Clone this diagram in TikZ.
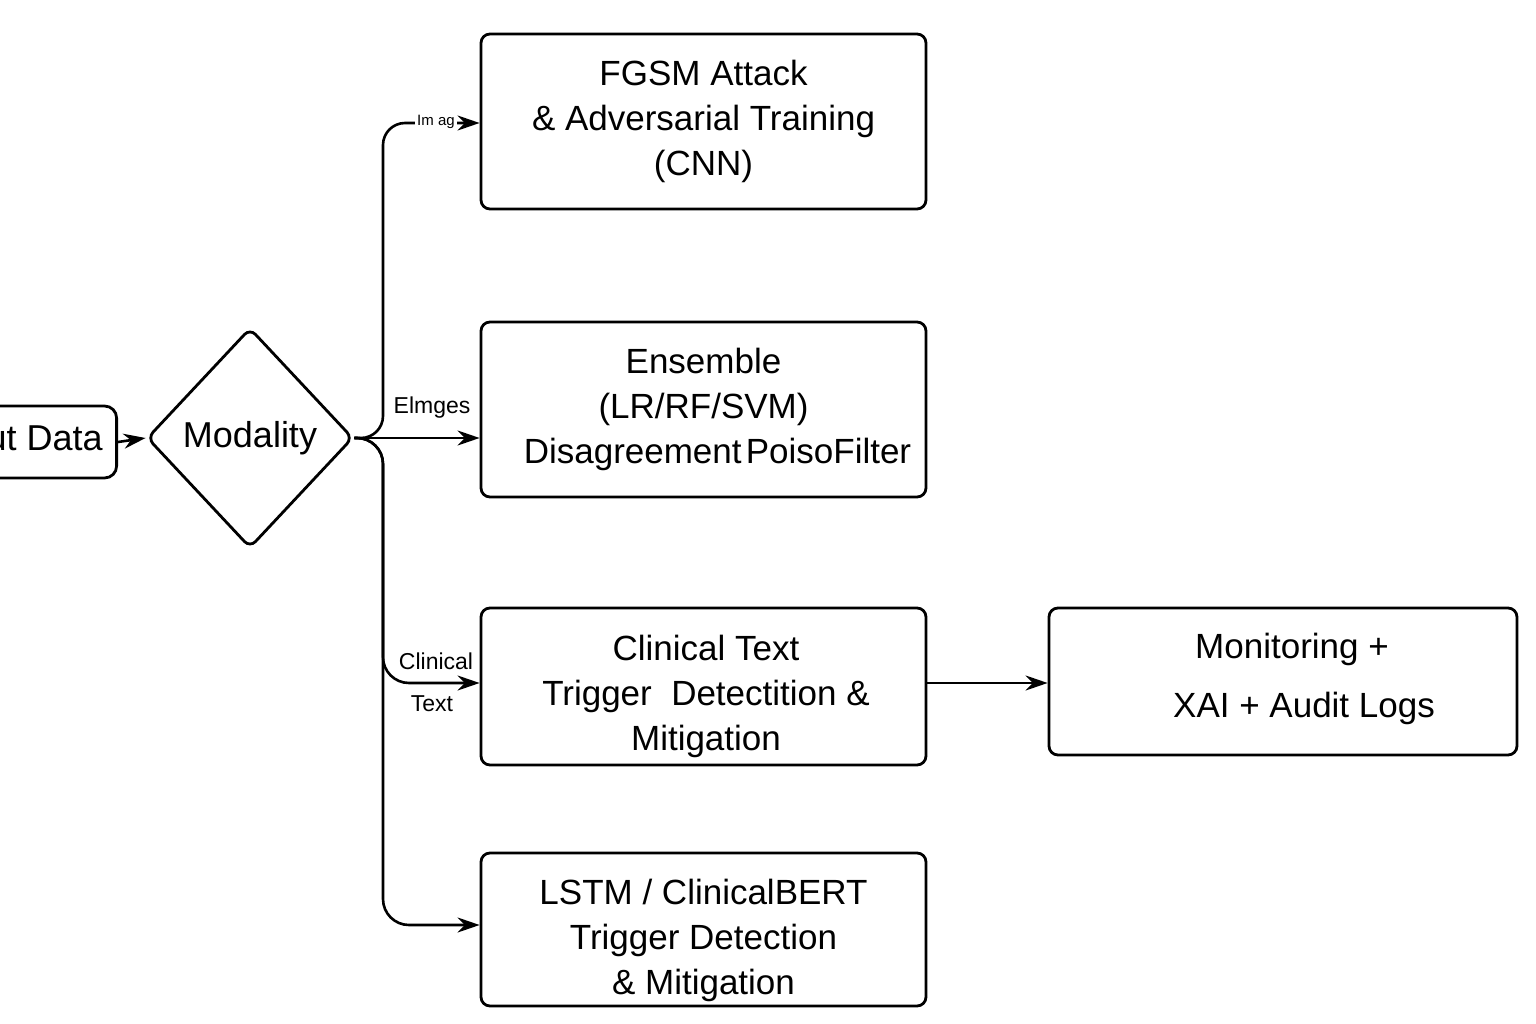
\documentclass[tikz,border=0pt]{standalone}
\usepackage{fontspec}
\setmainfont{Liberation Sans}
\usetikzlibrary{shapes.geometric,arrows.meta}
\tikzset{
  box/.style={draw, line width=2.8pt, rounded corners=9pt, minimum width=445pt, align=center, inner sep=0pt,
    font=\fontsize{35}{45}\selectfont},
  btext/.style={align=center, inner sep=0pt, font=\fontsize{35}{45}\selectfont},
  arr/.style={line width=2.6pt, -{Stealth[length=22pt,width=15pt]}},
  lbl/.style={font=\fontsize{23}{26}\selectfont, inner sep=0pt},
}
\begin{document}
\begin{tikzpicture}[x=1pt,y=-1pt]
\useasboundingbox (0,0) rectangle (1536,1024);
% input
\node[draw, line width=2.8pt, rounded corners=12pt, minimum height=72pt, inner xsep=14pt, anchor=east,
  font=\fontsize{36}{45}\selectfont] (inp) at (118,442) {Input Data};
% diamond
\node[diamond, draw, line width=2.8pt, rounded corners=8pt, minimum width=206pt, minimum height=220pt, inner sep=0pt,
  font=\fontsize{36}{40}\selectfont] (mod) at (250,438) {Modality};
% boxes
\node[box, minimum height=175pt] (b1) at (703.5,121.5) {FGSM Attack\\ \& Adversarial Training\\ (CNN)};
\node[box, minimum height=175pt] (b2) at (703.5,409.5) {Ensemble\\ (LR/RF/SVM)\\ \hspace*{28pt}Disagreement\hspace{0.12em}PoisoFilter};
\node[box, minimum height=157pt] (b3) at (703.5,686.5) {};
\node[btext] (t3) at (706,696) {Clinical Text\\ Trigger\ \ Detectition \&\\ Mitigation};
\node[box, minimum height=153pt] (b4) at (703.5,929.5) {};
\node[btext] (t4) at (703.5,940) {LSTM / ClinicalBERT\\ Trigger Detection\\ \& Mitigation};
\node[draw, line width=2.8pt, rounded corners=9pt, minimum width=468pt, minimum height=147pt] (b5) at (1283,681.5) {};
\node[btext] (t5a) at (1292,649) {Monitoring +};
\node[btext] (t5b) at (1304,708) {XAI + Audit Logs};
% connectors
\draw[arr] (inp.east) -- (mod.west);
\draw[arr] (mod.east) -- (b2.west |- mod.east);
\draw[arr, rounded corners=22pt] (mod.east) -- (383,438) -- (383,123) -- (b1.west |- 0,123);
\draw[arr, rounded corners=26pt] (mod.east) -- (383,438) -- (383,683) -- (b3.west |- 0,683);
\draw[arr, rounded corners=26pt] (mod.east) -- (383,438) -- (383,925) -- (b4.west |- 0,925);
\draw[arr] (b3.east |- 0,683) -- (b5.west |- 0,683);
% labels
\node[lbl, fill=white, inner xsep=2pt] (l0) at (436,122) {\fontsize{15}{16}\selectfont Im ag};
\node[lbl] (l1) at (432,408) {Elmges};
\node[lbl] (l2) at (436,661) {Clinical};
\node[lbl] (l3) at (432,704) {Text};
\end{tikzpicture}
\end{document}
